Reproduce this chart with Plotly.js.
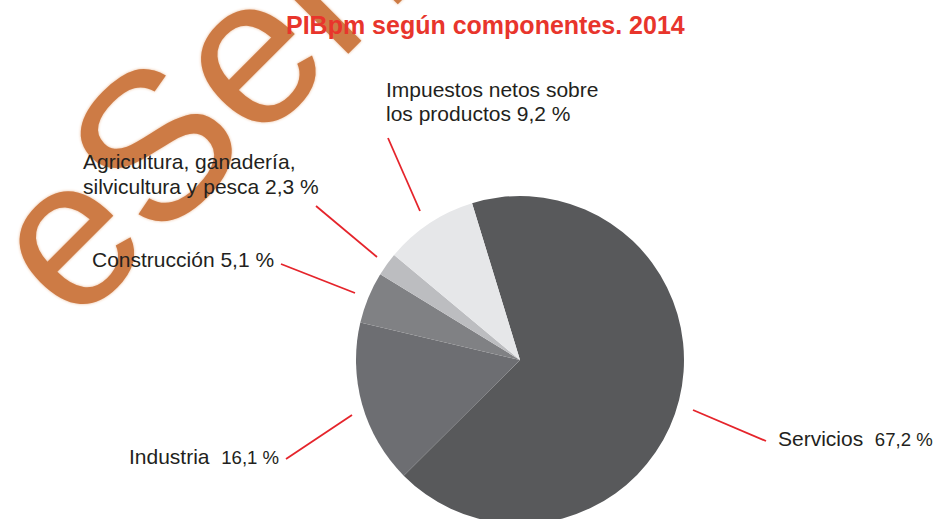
<!DOCTYPE html>
<html>
<head>
<meta charset="utf-8">
<script src="https://cdn.plot.ly/plotly-3.0.1.min.js"></script>
<style>
  html, body { margin: 0; padding: 0; background: #ffffff; overflow: hidden; width: 938px; height: 519px; }
  #chart { width: 938px; height: 530px; }
</style>
</head>
<body>
<div id="chart"></div>
<script>
// ---- data ----
const categoryLines = [
  ['Servicios'],
  ['Industria'],
  ['Construcción'],
  ['Agricultura, ganadería,', 'silvicultura y pesca'],
  ['Impuestos netos sobre', 'los productos']
];
const categories = categoryLines.map(l => l.join(' '));
const values = [67.2, 16.1, 5.1, 2.3, 9.2];
const valueLabels = ['67,2 %', '16,1 %', '5,1 %', '2,3 %', '9,2 %'];
const chartTitle = 'PIBpm según componentes. 2014';
const watermarkText = 'eSen';

// ---- styling / layout config ----
const W = 938, H = 530;
const colors = ['#58595b', '#6d6e72', '#808184', '#bcbdc0', '#e6e7e9'];
const labelFont = 'Liberation Sans, Arial, sans-serif';
const labelSize = 21;
const labelCfg = [
  { x: 778, anchor: 'left',  base: [446],      sep: '\u00a0\u00a0', vsize: 18.6 },
  { x: 279, anchor: 'right', base: [464],      sep: '\u00a0\u00a0', vsize: 18.6 },
  { x: 274, anchor: 'right', base: [267],      sep: ' ',            vsize: 21 },
  { x: 83,  anchor: 'left',  base: [169, 194], sep: ' ',            vsize: 21 },
  { x: 386, anchor: 'left',  base: [97, 121],  sep: ' ',            vsize: 21 }
];
const leaders = [
  [[693, 410], [766, 441]],
  [[286, 459], [352, 415]],
  [[281, 264], [355, 293]],
  [[316, 206], [377, 257]],
  [[388, 138], [420, 211]]
];
const pieCx = 520, pieCy = 360, pieR = 164;

const px = x => x / W;
const py = y => (H - y) / H;

const annotations = [];
// watermark (drawn first, under the texts)
annotations.push({
  xref: 'paper', yref: 'paper', x: px(196), y: py(104),
  xanchor: 'center', yanchor: 'middle', showarrow: false,
  text: watermarkText, textangle: -45,
  borderpad: 0, borderwidth: 0,
  font: { family: labelFont, size: 210, color: '#cd7b45', shadow: '0px 0px 3px #eab995' }
});

// title (as annotation so it lies above the watermark)
annotations.push({
  xref: 'paper', yref: 'paper', x: px(485), y: py(34 - 0.35 * 25),
  xanchor: 'center', yanchor: 'middle', showarrow: false,
  borderpad: 0, borderwidth: 0,
  text: '<b>' + chartTitle + '</b>',
  font: { family: labelFont, size: 25, color: '#e8352c' }
});

categoryLines.forEach((lines, i) => {
  const cfg = labelCfg[i];
  lines.forEach((ln, j) => {
    let txt = ln;
    if (j === lines.length - 1) {
      txt = ln + cfg.sep + (cfg.vsize !== labelSize
        ? '<span style="font-size:' + cfg.vsize + 'px">' + valueLabels[i] + '</span>'
        : valueLabels[i]);
    }
    annotations.push({
      xref: 'paper', yref: 'paper',
      x: px(cfg.x), y: py(cfg.base[j] - 0.35 * labelSize),
      xanchor: cfg.anchor, yanchor: 'middle', showarrow: false,
      borderpad: 0, borderwidth: 0,
      text: txt,
      font: { family: labelFont, size: labelSize, color: '#231f20' }
    });
  });
});

const shapes = leaders.map(l => ({
  type: 'line', xref: 'paper', yref: 'paper',
  x0: px(l[0][0]), y0: py(l[0][1]), x1: px(l[1][0]), y1: py(l[1][1]),
  line: { color: '#e5242b', width: 1.8 }
}));

const trace = {
  type: 'pie',
  labels: categories,
  values: values,
  sort: false,
  direction: 'clockwise',
  rotation: -17,
  textinfo: 'none',
  hoverinfo: 'label+percent',
  marker: { colors: colors, line: { color: '#ffffff', width: 0 } },
  domain: {
    x: [px(pieCx - pieR), px(pieCx + pieR)],
    y: [py(pieCy + pieR), py(pieCy - pieR)]
  },
  showlegend: false
};

const layout = {
  width: W, height: H,
  margin: { l: 0, r: 0, t: 0, b: 0, pad: 0 },
  paper_bgcolor: '#ffffff',
  plot_bgcolor: '#ffffff',
  showlegend: false,
  annotations: annotations,
  shapes: shapes
};

Plotly.newPlot('chart', [trace], layout, { displayModeBar: false, staticPlot: true });
</script>
</body>
</html>
